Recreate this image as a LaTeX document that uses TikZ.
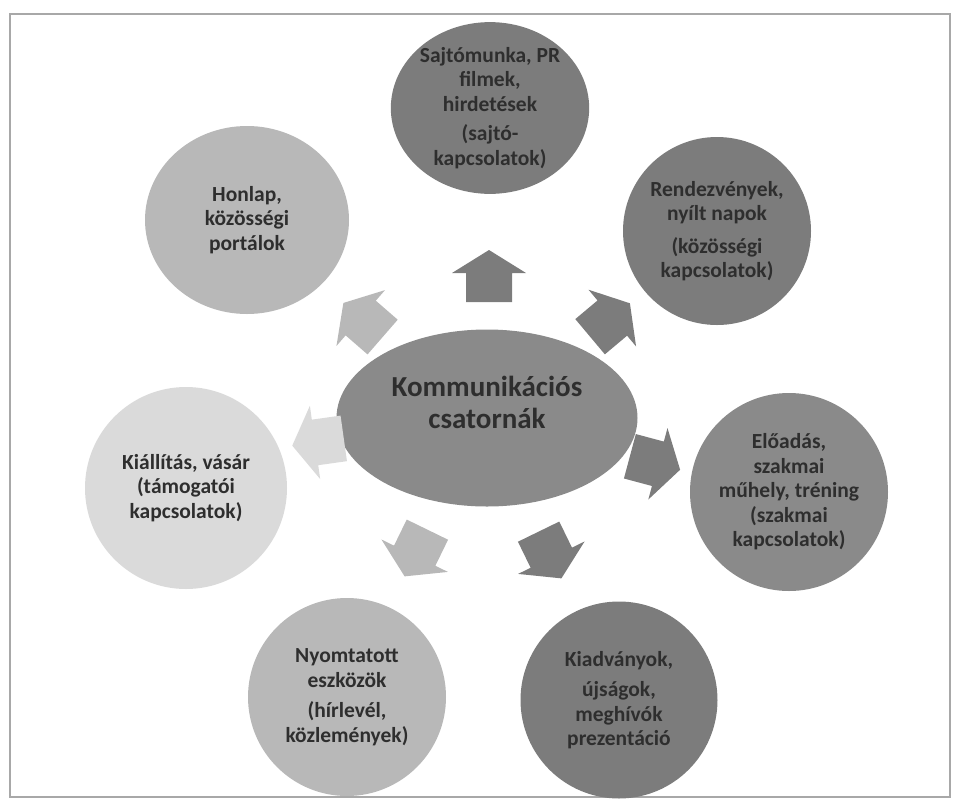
\documentclass[tikz,border=0pt]{standalone}
\usepackage{fontspec}
\setmainfont{Carlito}
\usetikzlibrary{shapes.geometric}
\definecolor{cdark}{HTML}{7C7C7C}
\definecolor{cmid}{HTML}{8A8A8A}
\definecolor{clight}{HTML}{B8B8B8}
\definecolor{cpale}{HTML}{DADADA}
\definecolor{txt}{HTML}{2E2E2E}
\definecolor{frame}{HTML}{A8A8A8}
\begin{document}
\begin{tikzpicture}[x=1pt,y=-1pt,
  bubble/.style={circle, inner sep=0pt, align=center, text=txt,
    font=\fontsize{21.5}{24.5}\selectfont\bfseries},
  oval/.style={ellipse, inner sep=0pt, align=center, text=txt,
    font=\fontsize{21.5}{24.5}\selectfont\bfseries},
  blockarr/.pic={\path[pic actions] (-26,-23) -- (3,-23) -- (3,-37) -- (26,0)
    -- (3,37) -- (3,23) -- (-26,23) -- cycle;}]
\useasboundingbox (0,0) rectangle (954,804);
\draw[frame, line width=1.2pt] (10,14) rectangle (950,797);

% centre
\node[ellipse, fill=cmid, minimum width=301pt, minimum height=177pt] (hub) at (487,418) {};
\node[text=txt, align=center, font=\fontsize{29}{32}\selectfont\bfseries] (hubtext) at (487,402) {Kommunikációs\\csatornák};

% satellites
\node[oval, fill=cdark, minimum width=194pt, minimum height=166pt] (sajto) at (490,108)
  {Sajtómunka, PR\\filmek,\\hirdetések\\[5pt](sajtó-\\kapcsolatok)};
\node[bubble, fill=cdark, minimum size=188pt] (rendezveny) at (717,231)
  {Rendezvények,\\nyílt napok\\[8pt](közösségi\\kapcsolatok)};
\node[bubble, fill=cmid, minimum size=198pt] (eloadas) at (789,492)
  {Előadás,\\szakmai\\műhely, tréning\\(szakmai\\kapcsolatok)};
\node[bubble, fill=cdark, minimum size=197pt] (kiadvany) at (619,700)
  {Kiadványok,\\[6pt]újságok,\\meghívók\\prezentáció};
\node[bubble, fill=clight, minimum size=198pt] (nyomtatott) at (347,697)
  {Nyomtatott\\eszközök\\[6pt](hírlevél,\\közlemények)};
\node[bubble, fill=cpale, minimum size=202pt] (kiallitas) at (186,488)
  {Kiállítás, vásár\\(támogatói\\kapcsolatok)};
\node[oval, fill=clight, minimum width=204pt, minimum height=188pt] (honlap) at (247,220)
  {Honlap,\\közösségi\\portálok};

% block arrows
\pic[fill=cdark, rotate=90] (a1) at (489,276) {blockarr};
\pic[fill=cdark, rotate=40] (a2) at (610,320) {blockarr};
\pic[fill=cdark, rotate=-15] (a3) at (655,463) {blockarr};
\pic[fill=cdark, rotate=-64] (a4) at (550,555) {blockarr};
\pic[fill=clight, rotate=-116] (a5) at (416,553) {blockarr};
\pic[fill=cpale, rotate=188] (a6) at (318,442) {blockarr};
\pic[fill=clight, rotate=139] (a7) at (363,320) {blockarr};
\end{tikzpicture}
\end{document}
